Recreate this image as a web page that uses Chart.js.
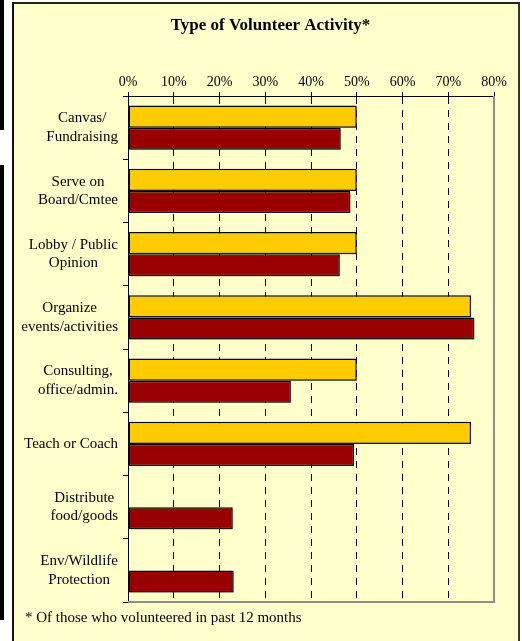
<!DOCTYPE html>
<html>
<head>
<meta charset="utf-8">
<title>Type of Volunteer Activity</title>
<script src="https://cdn.jsdelivr.net/npm/chart.js@4/dist/chart.umd.min.js"></script>
<style>
  html, body { margin: 0; padding: 0; background: #fff; }
  body { width: 522px; height: 641px; position: relative; overflow: hidden; }
  .strip { position: absolute; left: 0; width: 4px; background: #000; }
  #panel {
    position: absolute; left: 12px; top: 2px; width: 504px; height: 660px;
    background: #ffffcc; border-left: 2px solid #111; border-top: 2px solid #222;
    border-right: 2px solid #333;
  }
  #wrap { position: absolute; left: 0; top: 0; width: 522px; height: 641px; }
  #note {
    position: absolute; left: 25px; top: 608px; font: 15px "Liberation Serif", "Times New Roman", serif;
    line-height: 18px; color: #000; white-space: nowrap;
  }
</style>
</head>
<body>
<div class="strip" style="top:0;height:130px"></div>
<div class="strip" style="top:165px;height:455px"></div>
<div id="panel"></div>
<div id="wrap"><canvas id="activityChart" width="522" height="641"></canvas></div>
<div id="note">* Of those who volunteered in past 12 months</div>
<script>
const categories = [
  ["Canvas/", "Fundraising"],
  ["Serve on", "Board/Cmtee"],
  ["Lobby / Public", "Opinion"],
  ["Organize", "events/activities"],
  ["Consulting,", "office/admin."],
  ["Teach or Coach"],
  ["Distribute", "food/goods"],
  ["Env/Wildlife", "Protection"]
]
const seriesA = [50, 50, 50, 75, 50, 75, null, null]
const seriesB = [46.5, 48.6, 46.3, 75.7, 35.6, 49.4, 22.9, 23.1]
const xTicks = [0, 10, 20, 30, 40, 50, 60, 70, 80]

const serif = "'Liberation Serif', 'Times New Roman', serif"

// category labels: each label centred on itself, block right-aligned to the axis
const categoryLabels = {
  id: "categoryLabels",
  afterDraw(chart) {
    const ctx = chart.ctx
    const y = chart.scales.y
    const right = chart.chartArea.left - 10
    ctx.save()
    ctx.font = "15px " + serif
    ctx.fillStyle = "#000"
    ctx.textAlign = "center"
    ctx.textBaseline = "middle"
    categories.forEach((lines, i) => {
      const cy = y.getPixelForValue(i)
      const widest = Math.max(...lines.map(l => ctx.measureText(l).width))
      const cx = right - widest / 2
      const lh = 18.4
      const start = cy - (lines.length - 1) * lh / 2
      lines.forEach((l, j) => ctx.fillText(l, cx, start + j * lh))
    })
    ctx.restore()
  }
}

const plotFrame = {
  id: "plotFrame",
  afterDraw(chart) {
    const { ctx, chartArea: a } = chart
    ctx.save()
    ctx.strokeStyle = "#8c8c8c"
    ctx.lineWidth = 2
    ctx.beginPath()
    ctx.moveTo(a.left, a.bottom)
    ctx.lineTo(a.right, a.bottom)
    ctx.lineTo(a.right, a.top)
    ctx.stroke()
    ctx.restore()
  }
}

const barShadow = {
  id: "barShadow",
  beforeDatasetsDraw(chart) {
    const ctx = chart.ctx
    ctx.save()
    ctx.shadowColor = "rgba(60,60,60,0.45)"
    ctx.shadowOffsetX = 2
    ctx.shadowOffsetY = 2
    ctx.shadowBlur = 1
  },
  afterDatasetsDraw(chart) {
    chart.ctx.restore()
  }
}

new Chart(document.getElementById("activityChart"), {
  type: "bar",
  data: {
    labels: categories,
    datasets: [
      {
        label: "Series 1",
        data: seriesA,
        backgroundColor: "#ffcc00",
        borderColor: "#000",
        borderWidth: 1.5,
        borderSkipped: false,
        categoryPercentage: 0.7,
        barPercentage: 1.0
      },
      {
        label: "Series 2",
        data: seriesB,
        backgroundColor: "#990000",
        borderColor: "#000",
        borderWidth: 1.5,
        borderSkipped: false,
        categoryPercentage: 0.7,
        barPercentage: 1.0
      }
    ]
  },
  options: {
    indexAxis: "y",
    responsive: false,
    animation: false,
    devicePixelRatio: 1,
    layout: { padding: { left: 47, right: 28, top: 0, bottom: 39 } },
    plugins: {
      legend: { display: false },
      tooltip: { enabled: false },
      title: {
        display: true,
        text: "Type of Volunteer Activity*",
        color: "#000",
        font: { family: serif, size: 17, weight: "bold" },
        padding: { top: 15, bottom: 10 }
      }
    },
    scales: {
      x: {
        position: "top",
        min: 0,
        max: 80,
        afterBuildTicks: s => { s.ticks = xTicks.map(v => ({ value: v })) },
        afterFit: s => { s.height = 50.6 },
        ticks: {
          color: "#000",
          font: { family: serif, size: 14 },
          padding: 1,
          callback: v => v + "%"
        },
        grid: {
          color: c => (c.tick && (c.tick.value === 0 || c.tick.value === 80)) ? "rgba(0,0,0,0)" : "#000",
          tickColor: "#000",
          lineWidth: 1,
          tickBorderDash: [],
          tickLength: 4
        },
        border: { display: true, color: "#000", width: 1, dash: [7, 6] }
      },
      y: {
        type: "category",
        offset: true,
        afterFit: s => { s.width = 81 },
        ticks: { display: false },
        grid: {
          offset: true,
          drawOnChartArea: false,
          color: "#000",
          tickLength: 5
        },
        border: { display: true, color: "#000", width: 1 }
      }
    }
  },
  plugins: [barShadow, categoryLabels, plotFrame]
})
</script>
</body>
</html>
